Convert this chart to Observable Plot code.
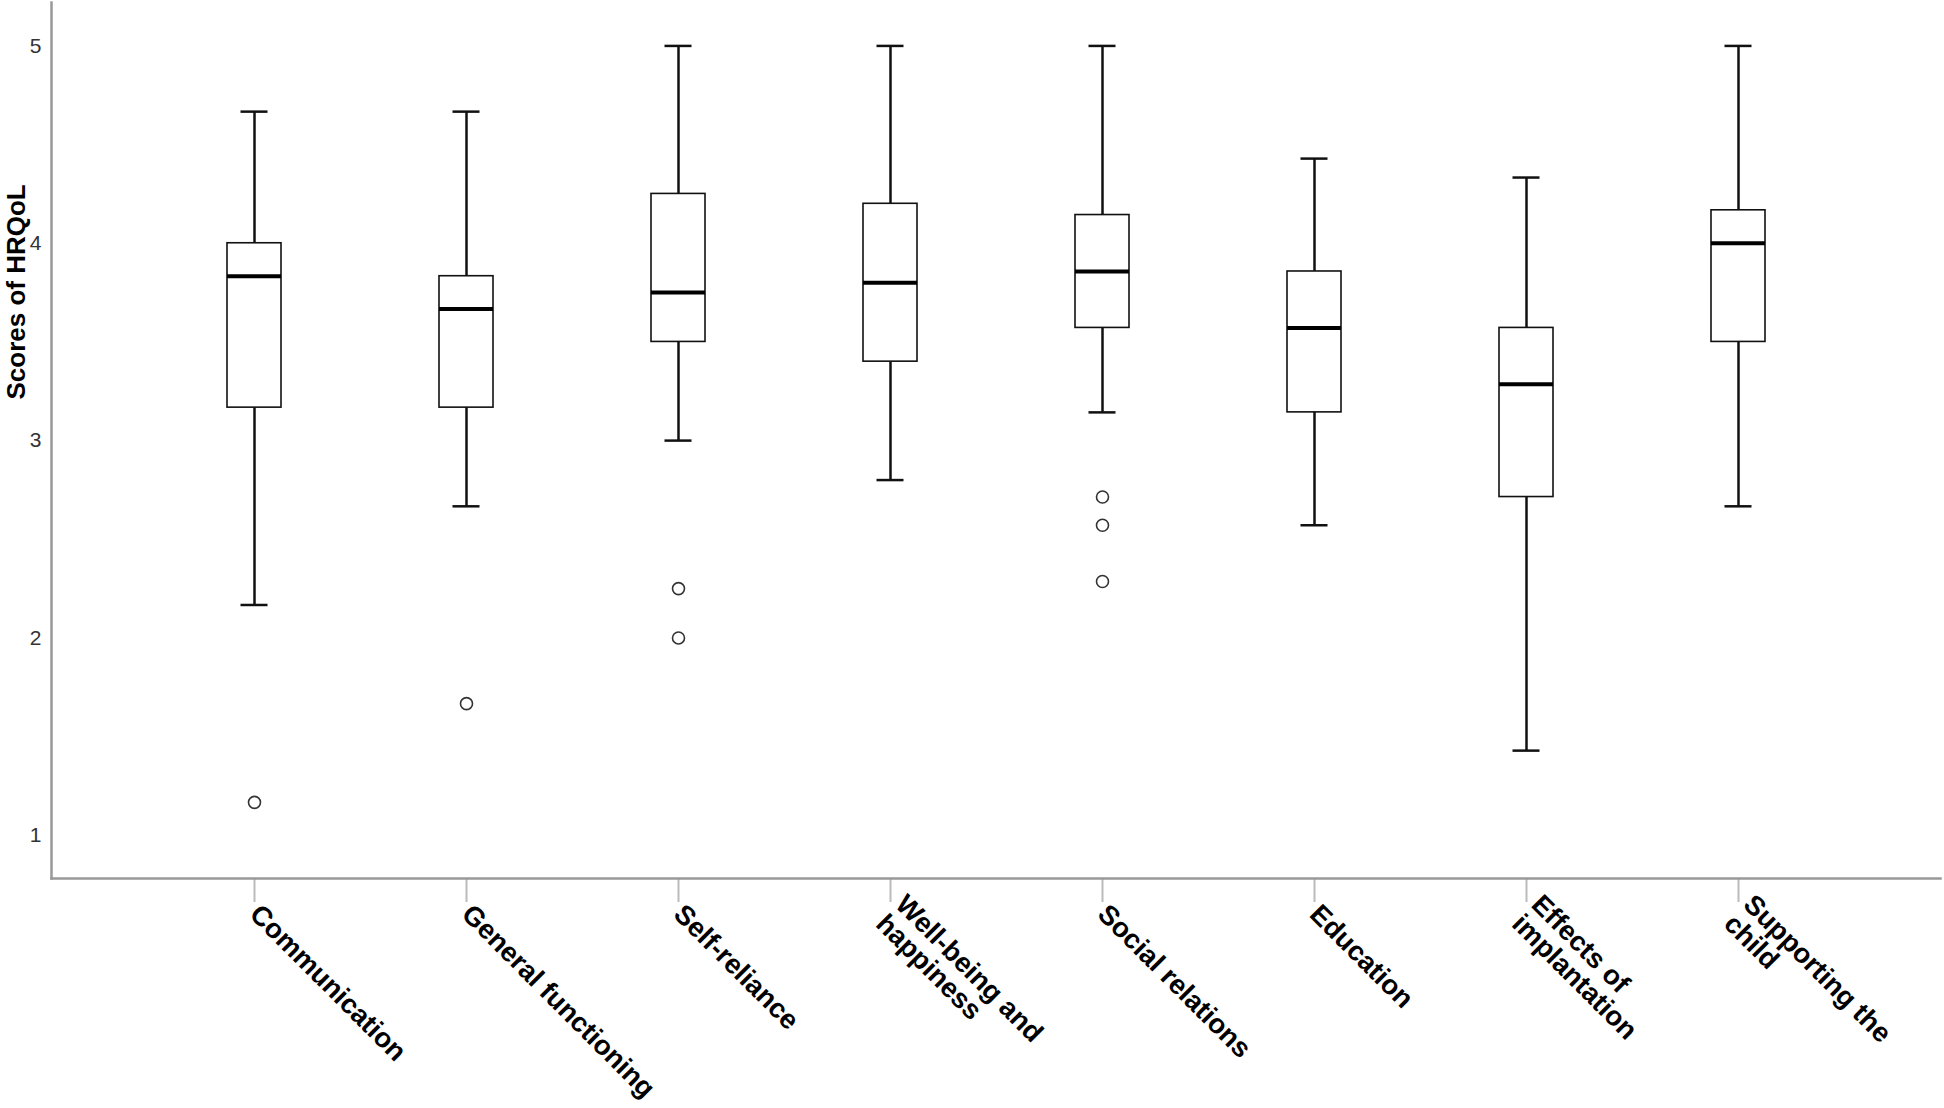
<!DOCTYPE html>
<html><head><meta charset="utf-8">
<script src="https://cdn.jsdelivr.net/npm/d3@7"></script>
<script src="https://cdn.jsdelivr.net/npm/@observablehq/plot@0.6"></script>
<style>html,body{margin:0;padding:0;background:#fff;overflow:hidden}</style>
</head><body><div id="chart"></div>
<script>
const categories = ["Communication","General functioning","Self-reliance","Well-being and happiness","Social relations","Education","Effects of implantation","Supporting the child"];
const tickLabels = ["Communication","General functioning","Self-reliance","Well-being and\nhappiness","Social relations","Education","Effects of\nimplantation","Supporting the\nchild"];
const whiskerLow  = [2.167, 2.667, 3.0, 2.8, 3.143, 2.571, 1.429, 2.667];
const q1          = [3.167, 3.167, 3.5, 3.4, 3.571, 3.143, 2.714, 3.5];
const median      = [3.833, 3.667, 3.75, 3.8, 3.857, 3.571, 3.286, 4.0];
const q3          = [4.0, 3.833, 4.25, 4.2, 4.143, 3.857, 3.571, 4.167];
const whiskerHigh = [4.667, 4.667, 5, 5, 5, 4.429, 4.333, 5];
const outlierCategory = ["Communication","General functioning","Self-reliance","Self-reliance","Social relations","Social relations","Social relations"];
const outlierValue    = [1.167, 1.667, 2.25, 2.0, 2.714, 2.571, 2.286];
const yTicks = [1, 2, 3, 4, 5];
const yDomain = [0.781, 5.22];
const yTitle = "Scores of HRQoL";

const boxes = categories.map((c, i) => ({category: c, low: whiskerLow[i], q1: q1[i], median: median[i], q3: q3[i], high: whiskerHigh[i]}));
const outliers = outlierCategory.map((c, i) => ({category: c, value: outlierValue[i]}));

const font = "'Liberation Sans', Arial, Helvetica, sans-serif";
const chart = Plot.plot({
  width: 1944, height: 1108,
  marginTop: 2, marginLeft: 51, marginRight: 4, marginBottom: 230,
  style: {fontFamily: font, background: "white", color: "#000"},
  x: {type: "band", domain: categories, paddingInner: 0.746, paddingOuter: 0.8165, label: null},
  y: {domain: yDomain, label: null},
  marks: [
    Plot.ruleX(boxes, {x: "category", y1: "low", y2: "q1", stroke: "#111", strokeWidth: 2.5}),
    Plot.ruleX(boxes, {x: "category", y1: "q3", y2: "high", stroke: "#111", strokeWidth: 2.5}),
    Plot.tickY(boxes, {x: "category", y: "low", insetLeft: 13.5, insetRight: 13.5, stroke: "#111", strokeWidth: 2.5}),
    Plot.tickY(boxes, {x: "category", y: "high", insetLeft: 13.5, insetRight: 13.5, stroke: "#111", strokeWidth: 2.5}),
    Plot.barY(boxes, {x: "category", y1: "q1", y2: "q3", fill: "white", stroke: "#111", strokeWidth: 1.6}),
    Plot.tickY(boxes, {x: "category", y: "median", stroke: "#000", strokeWidth: 4}),
    Plot.dot(outliers, {x: "category", y: "value", r: 6, stroke: "#333", strokeWidth: 1.6, fill: "white"}),
    Plot.axisY({ticks: yTicks, tickFormat: d => String(d), tickSize: 0, tickPadding: 10, fontSize: 21, fill: "#333", label: null}),
    Plot.axisX({text: null, tickSize: 24, stroke: "#bbb", strokeWidth: 2, label: null}),
    Plot.axisX({tickSize: 0, tickPadding: 31, tickRotate: 45, textAnchor: "start", lineAnchor: "middle",
      fontSize: 27.5, fontWeight: "bold", fill: "#000", label: null,
      tickFormat: d => tickLabels[categories.indexOf(d)]}),
    Plot.frame({anchor: "left", stroke: "#999", strokeWidth: 2.5}),
    Plot.frame({anchor: "bottom", stroke: "#999", strokeWidth: 2.5}),
    Plot.text([yTitle], {frameAnchor: "left", rotate: -90, dx: -35, dy: -41, fontSize: 26, fontWeight: "bold", fill: "#000"})
  ]
});
document.getElementById("chart").appendChild(chart);
</script>
</body></html>
